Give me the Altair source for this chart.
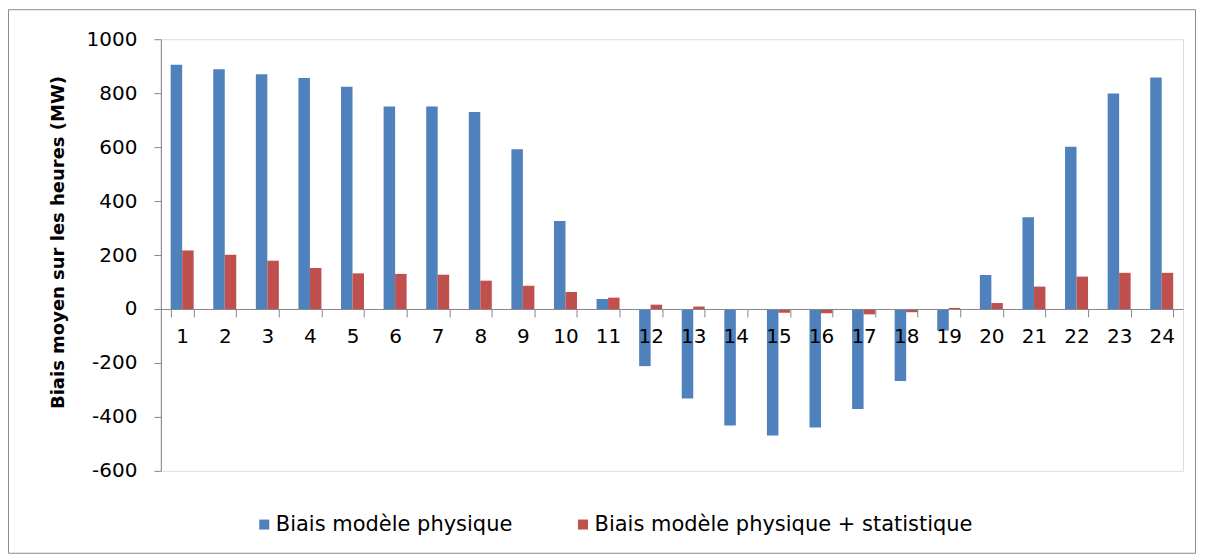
import altair as alt
import pandas as pd

hours = list(range(1, 25))
phys = [905, 889, 870, 856, 824, 751, 751, 730, 592, 326, 37, -212,
        -332, -432, -469, -439, -371, -267, -80, 126, 340, 601, 799, 858]
phys_stat = [217, 201, 179, 152, 132, 130, 127, 105, 86, 63, 42, 16,
             9, -2, -14, -16, -20, -12, 4, 22, 83, 120, 134, 134]
series = ["Biais modèle physique", "Biais modèle physique + statistique"]
colors = ["#4F81BD", "#C0504D"]
y_ticks = [-600, -400, -200, 0, 200, 400, 600, 800, 1000]

rows = []
for h, a, b in zip(hours, phys, phys_stat):
    rows.append({"heure": h, "serie": series[0], "valeur": a})
    rows.append({"heure": h, "serie": series[1], "valeur": b})
df = pd.DataFrame(rows)

FONT = "DejaVu Sans"
AX = "#868686"
W, H = 1023, 432

bars = alt.Chart(df).mark_bar().encode(
    x=alt.X("heure:O", sort=hours,
            scale=alt.Scale(paddingInner=0.46, paddingOuter=0.23),
            axis=alt.Axis(orient="bottom", offset=-162, title=None, labelAngle=0,
                          domainColor=AX, tickColor=AX, tickBand="extent",
                          tickSize=8, labelPadding=10, labelFontSize=20,
                          labelFont=FONT, labelColor="black", grid=False,
                          zindex=1)),
    xOffset=alt.XOffset("serie:N", sort=series,
                        scale=alt.Scale(paddingInner=0, paddingOuter=0)),
    y=alt.Y("valeur:Q",
            scale=alt.Scale(domain=[-600, 1000], nice=False, zero=True),
            axis=alt.Axis(values=y_ticks, title="Biais moyen sur les heures (MW)",
                          labelExpr="'' + datum.value",
                          titleFont=FONT, titleFontSize=18, titleFontWeight="bold",
                          titleColor="black", titleX=-102, titleY=203,
                          titleAngle=-90, titleAlign="center", titleBaseline="middle",
                          domainColor=AX, tickColor=AX, tickSize=7,
                          labelPadding=17, labelFontSize=20, labelFont=FONT,
                          labelColor="black", grid=False)),
    color=alt.Color("serie:N", sort=series,
                    scale=alt.Scale(domain=series, range=colors),
                    legend=alt.Legend(orient="none", legendX=93, legendY=475,
                                      direction="horizontal", title=None,
                                      symbolType="square", symbolSize=100,
                                      symbolStrokeWidth=0, labelFontSize=21,
                                      labelFont=FONT, labelColor="black",
                                      labelLimit=600,
                                      columnPadding=60, labelOffset=1)),
)

frame = alt.Chart(pd.DataFrame({"f": [0]})).mark_rect(
    fill=None, stroke="#8c8c8c", strokeWidth=1
).encode(
    x=alt.value(-152.5), x2=alt.value(1035.5),
    y=alt.value(-29.5), y2=alt.value(514.5)
)

chart = alt.layer(bars, frame).properties(
    width=W, height=H,
    autosize=alt.AutoSizeParams(type="none"),
    padding={"left": 153, "top": 31, "right": 14, "bottom": 84},
).configure_view(stroke=None).configure(background="white")

chart.save("out.html", embed_options={"renderer": "svg", "actions": False})
